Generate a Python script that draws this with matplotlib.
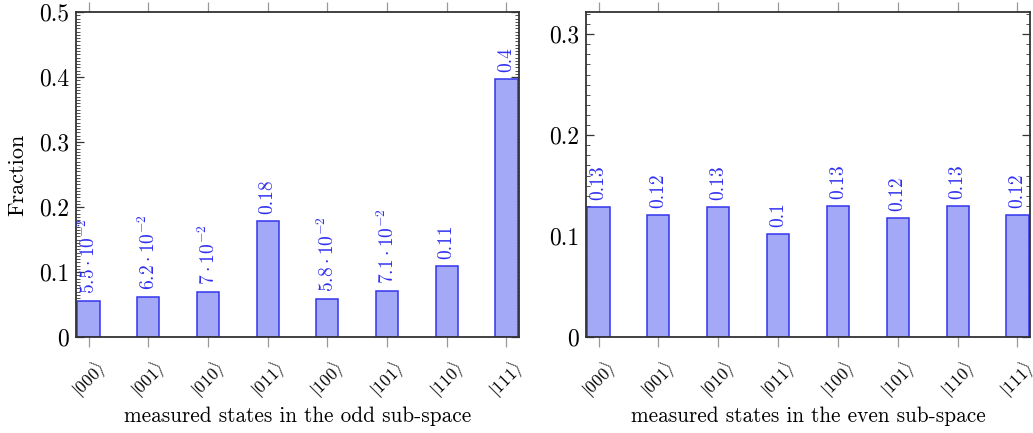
import matplotlib
matplotlib.use('Agg')
import matplotlib.pyplot as plt
from matplotlib.ticker import MultipleLocator, FixedLocator
import numpy as np

matplotlib.rcParams['font.family'] = 'serif'
matplotlib.rcParams['font.serif'] = ['cmr10', 'DejaVu Serif']
matplotlib.rcParams['mathtext.fontset'] = 'cm'
matplotlib.rcParams['axes.unicode_minus'] = False
matplotlib.rcParams['axes.formatter.use_mathtext'] = True

states = ['000', '001', '010', '011', '100', '101', '110', '111']
odd_values = [0.055, 0.062, 0.070, 0.178, 0.058, 0.071, 0.110, 0.397]
odd_labels = [r'$5.5\cdot10^{-2}$', r'$6.2\cdot10^{-2}$', r'$7\cdot10^{-2}$', '0.18',
              r'$5.8\cdot10^{-2}$', r'$7.1\cdot10^{-2}$', '0.11', '0.4']
even_values = [0.129, 0.121, 0.129, 0.102, 0.130, 0.118, 0.130, 0.121]
even_labels = ['0.13', '0.12', '0.13', '0.1', '0.13', '0.12', '0.13', '0.12']

fill = '#a3a9f6'
edge = '#3434ee'
txt_blue = '#2f2ff2'
frame = '#333333'

fig = plt.figure(figsize=(10.33, 4.33), dpi=100)
ax1 = fig.add_axes([76 / 1033, 1 - 337 / 433, (519 - 76) / 1033, (337 - 12) / 433])
ax2 = fig.add_axes([586 / 1033, 1 - 337 / 433, (1030 - 586) / 1033, (337 - 12) / 433])


def draw(ax, vals, labs, ymax, yticks, minor, xlabel):
    x = np.arange(len(states))
    ax.bar(x, vals, width=0.37, color=fill, edgecolor=edge, linewidth=1.1, zorder=2)
    for xi, v, l in zip(x, vals, labs):
        ax.annotate(l, (xi, v), xytext=(0, 5), textcoords='offset points',
                    rotation=90, ha='center', va='bottom', color=txt_blue,
                    fontsize=14, clip_on=False)
    ax.set_xlim(-0.21, 7.21)
    ax.set_ylim(0, ymax)
    ax.set_xticks(x)
    ax.set_xticklabels([r'$|%s\rangle$' % s for s in states], rotation=45,
                       ha='center', va='top', fontsize=12.5)
    ax.yaxis.set_major_locator(FixedLocator(yticks))
    ax.set_yticklabels(['0'] + ['%.1f' % t for t in yticks[1:]], fontsize=17)
    ax.yaxis.set_minor_locator(MultipleLocator(minor))
    ax.tick_params(axis='y', which='both', direction='in', left=True, right=True,
                   color=frame, pad=5)
    ax.tick_params(axis='y', which='major', length=6, width=0.9)
    ax.tick_params(axis='y', which='minor', length=3, width=0.6)
    ax.tick_params(axis='x', which='major', direction='out', top=True, bottom=True,
                   length=7, width=0.9, color='#999999', pad=7)
    for s in ax.spines.values():
        s.set_color(frame)
        s.set_linewidth(1.3)
    ax.set_xlabel(xlabel, fontsize=15.3, va='center')
    ax.xaxis.set_label_coords(0.5, -(416 - 337) / 325)


draw(ax1, odd_values, odd_labels, 0.5, [0, 0.1, 0.2, 0.3, 0.4, 0.5], 0.005,
     'measured states in the odd sub-space')
draw(ax2, even_values, even_labels, 0.322, [0, 0.1, 0.2, 0.3], 0.01,
     'measured states in the even sub-space')
ax1.set_ylabel('Fraction', fontsize=16, labelpad=8)

fig.savefig('out.png', dpi=100)
